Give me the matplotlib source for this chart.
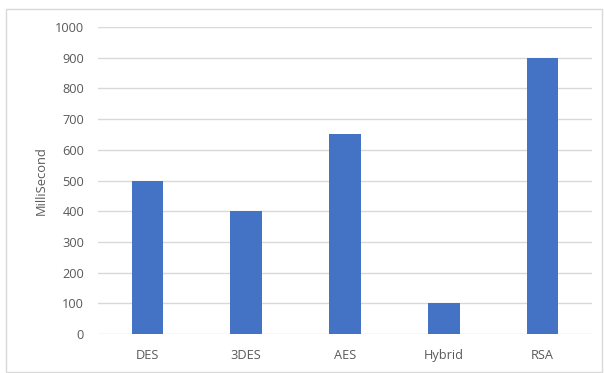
import matplotlib
matplotlib.use("Agg")
import matplotlib.pyplot as plt
from matplotlib.patches import Rectangle

categories = ["DES", "3DES", "AES", "Hybrid", "RSA"]
values = [500, 400, 650, 100, 900]
yticks = [0, 100, 200, 300, 400, 500, 600, 700, 800, 900, 1000]

plt.rcParams['font.family'] = ['Open Sans', 'DejaVu Sans']
fig = plt.figure(figsize=(6.04, 3.73), dpi=100)
fig.patch.set_facecolor('white')
fig.patches.append(Rectangle((6/604, 1/373), 596/604, 363/373, transform=fig.transFigure,
                             fill=False, edgecolor='#d9d9d9', linewidth=1.0))
ax = fig.add_axes([98/604, 1-334/373, 494/604, 307/373])
x = range(len(categories))
ax.bar(x, values, width=0.32, color='#4472C4', zorder=3)
ax.set_xlim(-0.5, len(categories)-0.5)
ax.set_ylim(0, 1000)
ax.set_yticks(yticks)
ax.set_xticks(list(x))
ax.set_xticklabels(categories)
ax.grid(axis='y', color='#d9d9d9', linewidth=1.0, zorder=0)
for s in ax.spines.values():
    s.set_visible(False)
ax.tick_params(axis='both', length=0, labelsize=9.2, colors='#595959')
ax.tick_params(axis='y', pad=10)
ax.tick_params(axis='x', pad=11)
ax.set_ylabel("MilliSecond", fontsize=9.3, color='#595959', labelpad=5)
fig.savefig("out.png", dpi=100)
